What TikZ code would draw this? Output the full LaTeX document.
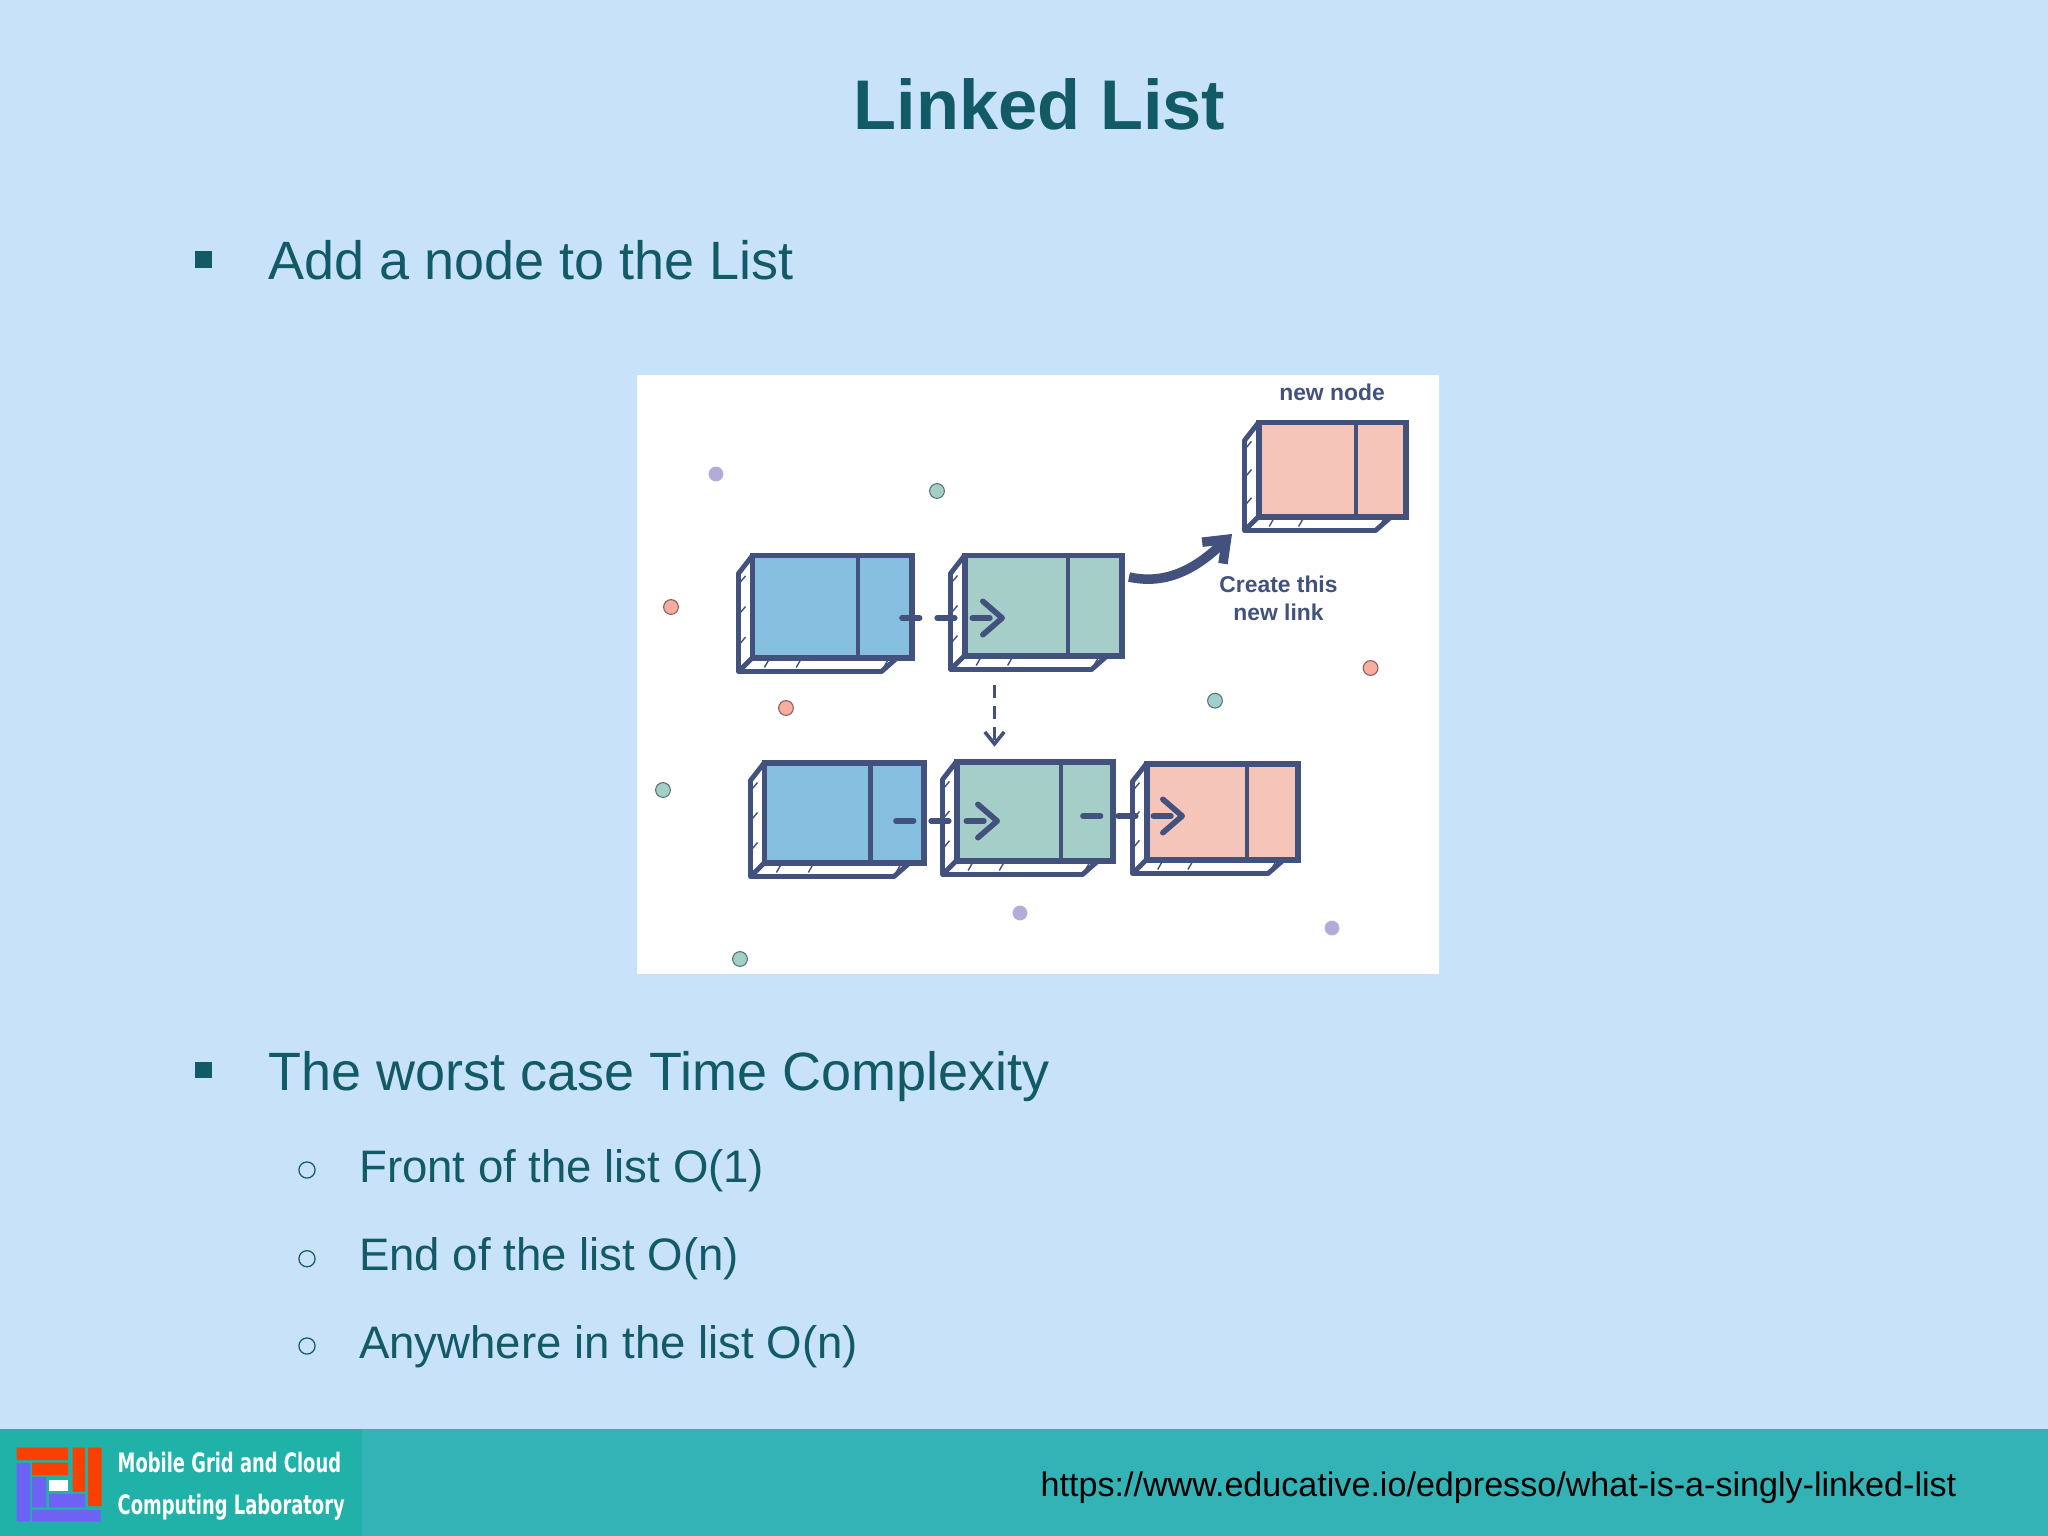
\documentclass[tikz,border=0pt]{standalone}
\usepackage{fontspec}
\setmainfont{Liberation Sans}
\newfontfamily\labfont[FakeStretch=0.67]{DejaVu Sans}
\usetikzlibrary{arrows.meta}
\definecolor{slidebg}{HTML}{C8E2F9}
\definecolor{footbar}{HTML}{34B3B6}
\definecolor{footleft}{HTML}{20B2A8}
\definecolor{headtext}{HTML}{125A66}
\definecolor{inkblue}{HTML}{42527D}
\definecolor{cellblue}{HTML}{86BEDF}
\definecolor{cellgreen}{HTML}{A5CEC9}
\definecolor{cellpink}{HTML}{F5C5BA}
\definecolor{dotpurple}{HTML}{B4ACD8}
\definecolor{dotteal}{HTML}{A3CFC9}
\definecolor{dotsalmon}{HTML}{F7ADA0}
\definecolor{logored}{HTML}{F94000}
\definecolor{logoblue}{HTML}{6E62F5}
\tikzset{
  bigitem/.style={anchor=base west,inner sep=0pt,text=headtext,font=\fontsize{15.35}{18}\selectfont},
  subitem/.style={anchor=base west,inner sep=0pt,text=headtext,font=\fontsize{12.95}{16}\selectfont},
  tag/.style={inner sep=0pt,text=inkblue,align=center,font=\fontsize{6.5}{7.9}\selectfont\bfseries},
  cell/.style={draw=inkblue,line width=1.7pt,anchor=north west,inner sep=0pt,outer sep=0pt},
  pointer/.style={inkblue,line width=1.6pt,line cap=round,dash pattern=on 5pt off 5pt,
    -{Straight Barb[length=5.5pt,width=9.5pt,round]}},
  dropline/.style={inkblue,line width=1pt,dash pattern=on 3.7pt off 2.3pt,
    -{Straight Barb[length=3.4pt,width=5.5pt]}},
  newlink/.style={inkblue,line width=2.7pt,
    -{Straight Barb[length=5.5pt,width=8.5pt]}},
  dot/.style={circle,inner sep=0pt,minimum size=4.2pt,draw=#1!55!black,line width=0.3pt,fill=#1},
  softdot/.style={circle,inner sep=0pt,minimum size=4.2pt,fill=#1},
}
% name, x, y, width, height, divider, colour
\newcommand{\cellbox}[7]{
  \fill[white,draw=inkblue,line width=1.4pt,line join=round] (#2,#3) -- ++(-14,18) -- ++(0,#5-4) -- ++(#4-16,0) -- ++(16,-14) -- cycle;
  \draw[inkblue,line width=1.4pt] (#2,#3+#5) -- ++(-14,14);
  \node[cell,fill=#7,minimum width=#4*0.2845pt,minimum height=#5*0.2845pt] (#1) at (#2,#3) {};
  \draw[inkblue,line width=1.3pt] (#2+#6,#3) -- ++(0,#5);
  \foreach \t in {0.2,0.5,0.8}
    \draw[inkblue,line width=0.4pt] (#2-12,#3+#5*\t+6) -- ++(5,-6);
  \foreach \t in {0.1,0.3,0.85}
    \draw[inkblue,line width=0.4pt] (#2+#4*\t,#3+#5+3) -- ++(-4,7);
}
\begin{document}
\begin{tikzpicture}[x=0.01cm,y=-0.01cm]
  \useasboundingbox (0,0) rectangle (2048,1536);
  \fill[slidebg] (0,0) rectangle (2048,1536);
  \node[inner sep=0pt,text=headtext,font=\fontsize{20}{24}\selectfont\bfseries,anchor=base] (title) at (1039.5,129.5) {Linked List};

  % bullets
  \node[fill=headtext,inner sep=0pt,minimum size=4.8pt] (markA) at (203.5,259.5) {};
  \node[bigitem] (addnode) at (268,279) {Add a node to the List};
  \node[fill=headtext,inner sep=0pt,minimum size=4.8pt] (markB) at (203.5,1070) {};
  \node[bigitem] (worst) at (268,1090) {The worst case Time Complexity};
  \foreach \n/\yy/\txt in {front/1182/Front of the list O(1),end/1270.7/End of the list O(n),any/1358/Anywhere in the list O(n)}{
    \node[circle,draw=headtext,line width=0.35pt,inner sep=0pt,minimum size=4.6pt] (ring\n) at (307,\yy-12) {};
    \node[subitem] (\n) at (358.5,\yy) {\txt};
  }

  % list picture
  \fill[white] (636.5,375) rectangle (1439,974);
  \foreach \n/\xx/\yy/\c in {dotA/671/607/dotsalmon,dotB/937/491/dotteal,dotC/1370.6/668/dotsalmon,dotD/786/708/dotsalmon,dotE/1215/700.7/dotteal,dotF/663/790/dotteal,dotG/740/959/dotteal}
    \node[dot=\c] (\n) at (\xx,\yy) {};
  \foreach \n/\xx/\yy in {dotH/716/474,dotI/1020/913,dotJ/1332/928}
    \node[softdot=dotpurple] (\n) at (\xx,\yy) {};

  \cellbox{blueA}{752.5}{555.5}{159}{102}{105.5}{cellblue}
  \cellbox{greenA}{964.5}{555.5}{157}{100}{103.5}{cellgreen}
  \cellbox{pinkA}{1258.5}{422.5}{147}{94}{97.5}{cellpink}
  \cellbox{blueB}{764.5}{762.5}{159.5}{100}{106}{cellblue}
  \cellbox{greenB}{956.5}{761.5}{156}{99}{104.5}{cellgreen}
  \cellbox{pinkB}{1146.5}{763.5}{151.5}{96}{100.5}{cellpink}

  \node[tag] (newnode) at (1332,392.5) {new node};
  \node[tag] (createlink) at (1278.5,598.5) {Create this\\new link};

  \coordinate (ptrA) at (902,618);
  \coordinate (ptrB) at (1005,618);
  \coordinate (ptrC) at (896,821);
  \coordinate (ptrD) at (1000,821);
  \coordinate (ptrE) at (1083,816);
  \coordinate (ptrF) at (1185,816);
  \coordinate (dropA) at (994.5,685);
  \coordinate (dropB) at (994.5,746.7);
  \coordinate (linkA) at (1129,577);
  \coordinate (linkB) at (1232,534);
  \draw[pointer] (ptrA) -- (ptrB);
  \draw[pointer] (ptrC) -- (ptrD);
  \draw[pointer] (ptrE) -- (ptrF);
  \draw[dropline] (dropA) -- (dropB);
  \draw[newlink] (linkA) .. controls (1165,585) and (1195,570) .. (linkB);

  % footer
  \fill[footbar] (0,1429) rectangle (2048,1536);
  \fill[footleft] (0,1429) rectangle (362,1536);
  \fill[logored] (16.7,1447.7) rectangle (68,1460) (32,1462.7) rectangle (68,1475)
    (72.7,1447.7) rectangle (85,1491.7) (88,1447.7) rectangle (101.7,1506);
  \fill[logoblue] (16.7,1463) rectangle (30,1521.7) (32,1477) rectangle (46,1507)
    (49,1494) rectangle (85,1507) (32,1510) rectangle (100.7,1521.7);
  \fill[white] (49,1480) rectangle (68,1491);
  \node[anchor=base west,inner sep=0pt,text=white,font=\fontsize{7.6}{9}\labfont\bfseries] (labA) at (117,1472) {Mobile Grid and Cloud};
  \node[anchor=base west,inner sep=0pt,text=white,font=\fontsize{7.6}{9}\labfont\bfseries] (labB) at (117,1514) {Computing Laboratory};
  \node[anchor=base east,inner sep=0pt,text=black,font=\fontsize{9.7}{12}\selectfont] (url) at (1957,1496.5) {https://www.educative.io/edpresso/what-is-a-singly-linked-list};
\end{tikzpicture}
\end{document}
